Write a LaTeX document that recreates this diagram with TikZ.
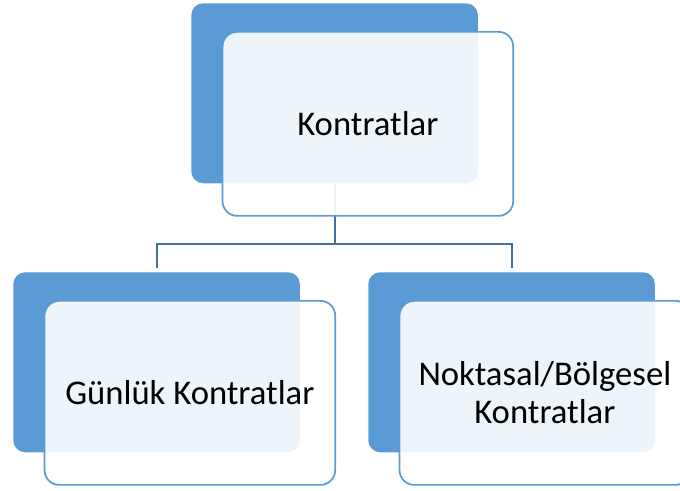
\documentclass[tikz,border=0pt]{standalone}
\usepackage{fontspec}
\setmainfont{Carlito}
\usetikzlibrary{positioning}
\definecolor{boxblue}{HTML}{5B9BD5}
\definecolor{linkblue}{HTML}{41719C}

\begin{document}
\begin{tikzpicture}[x=0.75pt, y=-0.75pt,
    back/.style={rectangle, 
      fill=boxblue, 
      rounded corners=9pt, 
      inner sep=0pt, 
      minimum width=215pt, 
      minimum height=135pt, 
      anchor=north west},
    front/.style={rectangle, 
      draw=boxblue, 
      line width=1.3pt, 
      fill=white, 
      fill opacity=0.9, 
      text opacity=1, 
      rounded corners=11pt, 
      inner sep=0pt, 
      minimum width=218pt, 
      minimum height=138pt, 
      align=center, 
      font=\fontsize{26}{28.5}\selectfont, 
      below right=21pt and 23pt of #1.north west},
    link/.style={draw=linkblue, line width=1.5pt}]

  \useasboundingbox (0,0) rectangle (680,490);

  \node [back] (kontrat) at (191,3) {};
  \node [back] (gunluk) at (13,272) {};
  \node [back] (noktasal) at (368,272) {};

% CONNECTORS

  \path (kontrat.south) ++(0,60) coordinate (fork);
  \draw[link, shorten >=3pt] (kontrat.south) -- (fork) -| (gunluk.north);
  \draw[link, shorten >=3pt] (fork) -| (noktasal.north);

% LABELS

  \node [front=kontrat] (kontrattext) {Kontratlar};
  \node [front=gunluk] (gunluktext) {Günlük Kontratlar};
  \node [front=noktasal] (noktasaltext) {Noktasal/Bölgesel\\Kontratlar};

\end{tikzpicture}
\end{document}
